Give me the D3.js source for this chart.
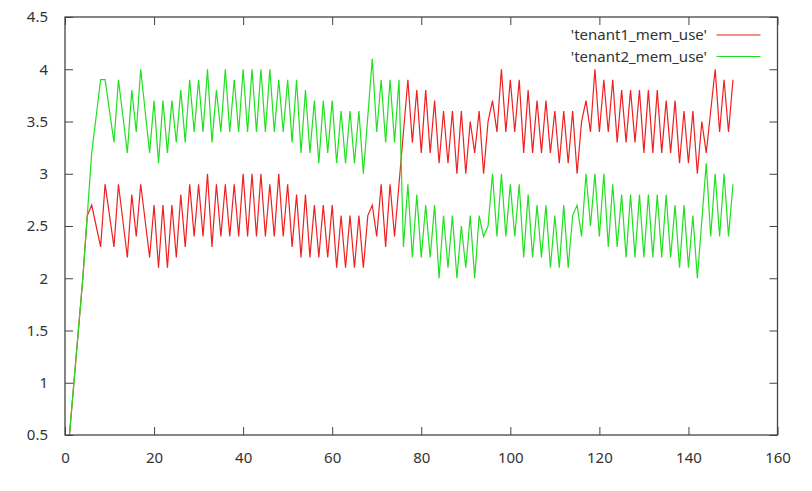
<!DOCTYPE html>
<html><head><meta charset="utf-8">
<script src="https://cdn.jsdelivr.net/npm/d3@7/dist/d3.min.js"></script>
<style>
body{margin:0;background:#fff}
svg{display:block}
text{font-family:"Noto Sans",sans-serif;fill:#333;font-size:15px}
</style>
</head><body>
<svg id="chart" width="812" height="491"></svg>
<script>
const seriesNames = ["'tenant1_mem_use'", "'tenant2_mem_use'"];
const seriesColors = ["#f02020", "#20e020"];
const xTicks = [0, 20, 40, 60, 80, 100, 120, 140, 160];
const yTicks = [0.5, 1, 1.5, 2, 2.5, 3, 3.5, 4, 4.5];
const firstX = 1;

const tenant1 = [
0.5,1.0,1.5,2.0,2.6,2.7,2.5,2.3,2.9,2.6,
2.3,2.9,2.55,2.2,2.8,2.4,2.9,2.55,2.2,2.7,
2.1,2.7,2.1,2.7,2.2,2.8,2.3,2.9,2.4,2.9,
2.4,3.0,2.3,2.9,2.4,2.9,2.4,2.9,2.4,3.0,
2.4,3.0,2.4,3.0,2.4,2.9,2.4,3.0,2.4,2.9,
2.3,2.8,2.2,2.8,2.2,2.7,2.2,2.7,2.2,2.7,
2.1,2.6,2.1,2.6,2.1,2.6,2.1,2.6,2.7,2.4,
2.9,2.3,2.9,2.4,2.9,3.4,3.9,3.3,3.8,3.2,
3.8,3.2,3.7,3.1,3.6,3.1,3.6,3.0,3.6,3.0,
3.5,3.2,3.6,3.0,3.5,3.7,3.4,4.0,3.4,3.9,
3.4,3.9,3.2,3.8,3.2,3.7,3.2,3.7,3.2,3.6,
3.1,3.6,3.1,3.6,3.0,3.5,3.7,3.4,4.0,3.4,
3.9,3.4,3.9,3.3,3.8,3.3,3.8,3.3,3.8,3.2,
3.8,3.2,3.8,3.2,3.7,3.2,3.7,3.1,3.6,3.1,
3.6,3.0,3.5,3.2,3.6,4.0,3.4,3.9,3.4,3.9
];
const tenant2 = [
0.5,1.0,1.5,2.0,2.6,3.2,3.55,3.9,3.9,3.6,
3.3,3.9,3.55,3.2,3.8,3.4,4.0,3.6,3.2,3.7,
3.1,3.7,3.2,3.7,3.3,3.8,3.3,3.9,3.4,3.9,
3.4,4.0,3.3,3.8,3.4,4.0,3.4,3.9,3.4,4.0,
3.4,4.0,3.4,4.0,3.4,4.0,3.4,3.9,3.4,3.9,
3.3,3.9,3.2,3.8,3.2,3.7,3.1,3.7,3.2,3.7,
3.1,3.6,3.1,3.6,3.1,3.6,3.0,3.55,4.1,3.4,
3.9,3.3,3.9,3.3,3.9,2.3,2.9,2.2,2.8,2.2,
2.7,2.2,2.7,2.0,2.6,2.1,2.6,2.0,2.5,2.1,
2.6,2.0,2.6,2.4,2.5,3.0,2.4,3.0,2.4,2.9,
2.4,2.9,2.2,2.8,2.2,2.7,2.2,2.7,2.1,2.6,
2.1,2.7,2.1,2.6,2.7,2.4,3.0,2.5,3.0,2.4,
3.0,2.3,2.9,2.3,2.8,2.2,2.8,2.2,2.8,2.2,
2.8,2.2,2.8,2.2,2.8,2.2,2.7,2.1,2.7,2.1,
2.6,2.0,2.55,3.1,2.4,3.0,2.4,3.0,2.4,2.9
];

const svg = d3.select("#chart");
const L = 65, R = 777.5, T = 17, B = 435;
const x = d3.scaleLinear().domain([0, 160]).range([L, R]);
const y = d3.scaleLinear().domain([0.5, 4.5]).range([B, T]);
const tickLen = 8;
const frameColor = "#444";

// Data lines
const line = d3.line().x((d, i) => x(firstX + i)).y(d => y(d));
[tenant1, tenant2].forEach((s, k) => {
  svg.append("path").datum(s)
    .attr("fill", "none")
    .attr("stroke", seriesColors[k])
    .attr("stroke-width", 1.2)
    .attr("stroke-linejoin", "miter")
    .attr("d", line);
});

// Axes (gnuplot-like, ticks inward and mirrored)
const axB = d3.axisBottom(x).tickValues(xTicks).tickSize(-tickLen).tickPadding(17).tickFormat(d3.format("d"));
const axT = d3.axisTop(x).tickValues(xTicks).tickSize(-tickLen).tickFormat("");
const axL = d3.axisLeft(y).tickValues(yTicks).tickSize(-tickLen).tickPadding(17).tickFormat(d => String(d));
const axR = d3.axisRight(y).tickValues(yTicks).tickSize(-tickLen).tickFormat("");

function style(g) {
  g.select(".domain").remove();
  g.selectAll(".tick line").attr("stroke", frameColor).attr("stroke-width", 1);
  g.selectAll(".tick text").attr("fill", "#333").style("font-size", "15px");
}
svg.append("g").attr("transform", `translate(0,${B})`).call(axB).call(style);
svg.append("g").attr("transform", `translate(0,${T})`).call(axT).call(style);
svg.append("g").attr("transform", `translate(${L},0)`).call(axL).call(style);
svg.append("g").attr("transform", `translate(${R},0)`).call(axR).call(style);

svg.append("rect").attr("x", L).attr("y", T).attr("width", R - L).attr("height", B - T)
  .attr("fill", "none").attr("stroke", frameColor).attr("stroke-width", 1.3);

// Legend
const legend = svg.append("g");
seriesNames.forEach((name, k) => {
  const cy = 35 + k * 21.5;
  legend.append("text").attr("x", 707).attr("y", cy).attr("dy", "0.35em")
    .attr("text-anchor", "end").text(name);
  legend.append("line").attr("x1", 716.5).attr("x2", 760.5).attr("y1", cy).attr("y2", cy)
    .attr("stroke", seriesColors[k]).attr("stroke-width", 1.2);
});
</script>
</body></html>
